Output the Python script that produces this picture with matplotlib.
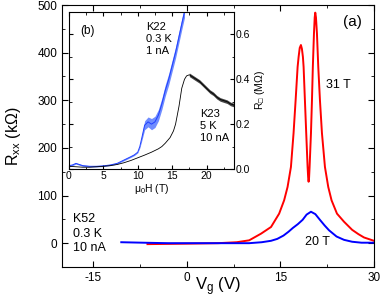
import numpy as np
import matplotlib.pyplot as plt
from matplotlib.ticker import MultipleLocator

plt.rcParams['font.family'] = ['Liberation Sans', 'DejaVu Sans']
plt.rcParams['mathtext.fontset'] = 'custom'
plt.rcParams['mathtext.rm'] = 'Liberation Sans'
plt.rcParams['mathtext.it'] = 'Liberation Sans'
plt.rcParams['mathtext.fallback'] = 'stix'
plt.rcParams['axes.unicode_minus'] = False

# -----------
# main panel (a): K52, R_xx vs gate voltage
# -----------
vg_31 = [-6.3, 0, 5, 8, 10, 11.9, 13.5, 14.8, 15.6, 16.15, 16.69, 17.11, 17.44, 17.76,
         17.92, 18.1, 18.29, 18.45, 18.61, 18.72, 18.93, 19.14, 19.36, 19.45, 19.52,
         19.6, 19.68, 19.9, 20.06, 20.2, 20.38, 20.5, 20.59, 20.7, 20.86, 21.07, 21.34,
         21.66, 22.14, 22.67, 23.2, 24.07, 25.2, 26.5, 27.5, 28.4, 30]
r_31 = [-2, -1, 0, 2, 6, 20, 34, 62, 90, 118, 160, 231, 300, 370,
        391, 410, 416, 408, 391, 370, 300, 231, 160, 138, 129,
        138, 160, 231, 300, 370, 440, 474, 484, 474, 440, 370, 300,
        231, 160, 118, 90, 62, 45, 28, 19, 12, 5]

vg_20 = [-10.5, -7, -3, 5, 10, 12, 13.5, 14.5, 15.5, 16.3, 17.0, 17.8, 18.56, 19.2, 19.9,
         20.6, 21.4, 22.1, 22.8, 24, 25.2, 26.5, 28, 30]
r_20 = [2, 1, 0, 0, 0, 2, 5, 9, 16, 24, 32, 40, 49, 60, 66,
        61, 48, 37, 27, 14, 7, 3, 1, 1]

# -----------
# inset (b): R_sq vs field
# -----------
h_k22 = [0, 0.5, 1, 1.5, 2, 3, 4, 5, 6, 7, 8, 9, 9.5, 10, 10.3, 10.6, 11.0, 11.5,
         12.0, 12.5, 13.0, 13.5, 14.0, 14.5, 15.0, 15.5, 16.0, 16.5, 16.8]
r_k22 = [0.015, 0.018, 0.025, 0.02, 0.015, 0.012, 0.012, 0.014, 0.018, 0.025, 0.04,
         0.055, 0.063, 0.075, 0.10, 0.14, 0.195, 0.21, 0.2, 0.21, 0.24, 0.29, 0.35,
         0.40, 0.46, 0.52, 0.59, 0.66, 0.70]
w_k22 = [0.003] * 14 + [0.006, 0.012, 0.02, 0.022, 0.025, 0.025, 0.025, 0.025, 0.025,
                        0.025, 0.025, 0.025, 0.025, 0.025, 0.025]

h_k23 = [0, 1, 2, 3, 4, 5, 6, 7, 8, 9, 10, 11, 12, 13, 13.5, 14, 14.7, 15.2, 15.5, 16,
         16.4, 16.8, 17.1, 17.5, 18, 18.5, 19, 19.5, 20, 20.5, 21, 21.5, 22, 22.5, 23,
         23.5, 24]
r_k23 = [0.012, 0.01, 0.008, 0.008, 0.01, 0.012, 0.015, 0.02, 0.028, 0.038, 0.05, 0.062,
         0.075, 0.09, 0.1, 0.115, 0.14, 0.17, 0.2, 0.28, 0.36, 0.4, 0.415, 0.42, 0.41,
         0.40, 0.39, 0.375, 0.36, 0.345, 0.335, 0.32, 0.31, 0.305, 0.30, 0.29, 0.285]

fig = plt.figure(figsize=(3.81, 3.07), dpi=100)
ax = fig.add_axes([0.1627, 0.1303, 0.8189, 0.8534])

ax.plot(vg_31, r_31, color='#ff0000', lw=1.4)
ax.plot(vg_20, r_20, color='#0000ff', lw=1.4)

ax.set_xlim(-20, 30)
ax.set_ylim(-50, 500)
ax.xaxis.set_major_locator(MultipleLocator(15))
ax.xaxis.set_minor_locator(MultipleLocator(7.5))
ax.yaxis.set_major_locator(MultipleLocator(100))
ax.yaxis.set_minor_locator(MultipleLocator(50))
ax.tick_params(which='both', direction='in', top=True, right=True, labelsize=8.5)
ax.tick_params(which='major', length=4)
ax.tick_params(which='minor', length=2.5)
ax.set_yticks([0, 100, 200, 300, 400, 500])
ax.set_xlabel('V$_\\mathrm{g}$ (V)', fontsize=12, labelpad=-6)
ax.set_ylabel('R$_\\mathrm{xx}$ (k\u03a9)', fontsize=11.5, labelpad=10)

ax.text(26.5, 465, '(a)', fontsize=11, ha='center', va='center')
ax.text(22.3, 332, '31 T', fontsize=9, va='center')
ax.text(20.9, 3, '20 T', fontsize=9, ha='center', va='center')
ax.text(-18.2, 20, 'K52\n0.3 K\n10 nA', fontsize=9, va='center', linespacing=1.3)

# inset
ins = fig.add_axes([0.1811, 0.4495, 0.4331, 0.5115])
ins.fill_between(h_k22, np.array(r_k22) - np.array(w_k22), np.array(r_k22) + np.array(w_k22),
                 color='#6f8cff', lw=0)
ins.plot(h_k22, r_k22, color='#2040ff', lw=0.7)
ins.plot(h_k23, r_k23, color='black', lw=0.6)
ins.fill_between(h_k23[23:], np.array(r_k23[23:]) - 0.008, np.array(r_k23[23:]) + 0.008,
                 color='#444444', lw=0)

ins.set_xlim(0, 24)
ins.set_ylim(0, 0.7)
ins.xaxis.set_major_locator(MultipleLocator(5))
ins.xaxis.set_minor_locator(MultipleLocator(2.5))
ins.yaxis.set_major_locator(MultipleLocator(0.2))
ins.yaxis.set_minor_locator(MultipleLocator(0.1))
ins.yaxis.tick_right()
ins.yaxis.set_label_position('right')
ins.tick_params(which='both', direction='in', top=True, left=True, right=True, labelsize=7.5,
                pad=1.5)
ins.tick_params(which='major', length=3)
ins.tick_params(which='minor', length=1.8)
ins.yaxis.set_major_formatter(plt.FormatStrFormatter('%.1f'))
ins.set_xlabel('\u03bc$_0$H (T)', fontsize=7.5, labelpad=1)
ins.set_ylabel('R$_{\u25a1}$ (M\u03a9)', fontsize=7.5, labelpad=2)

ins.text(1.7, 0.615, '(b)', fontsize=8.5, va='center')
ins.text(11.2, 0.58, 'K22\n0.3 K\n1 nA', fontsize=8, va='center', linespacing=1.25)
ins.text(19.0, 0.19, 'K23\n5 K\n10 nA', fontsize=8, va='center', linespacing=1.25)

fig.savefig('out.png', dpi=100)
